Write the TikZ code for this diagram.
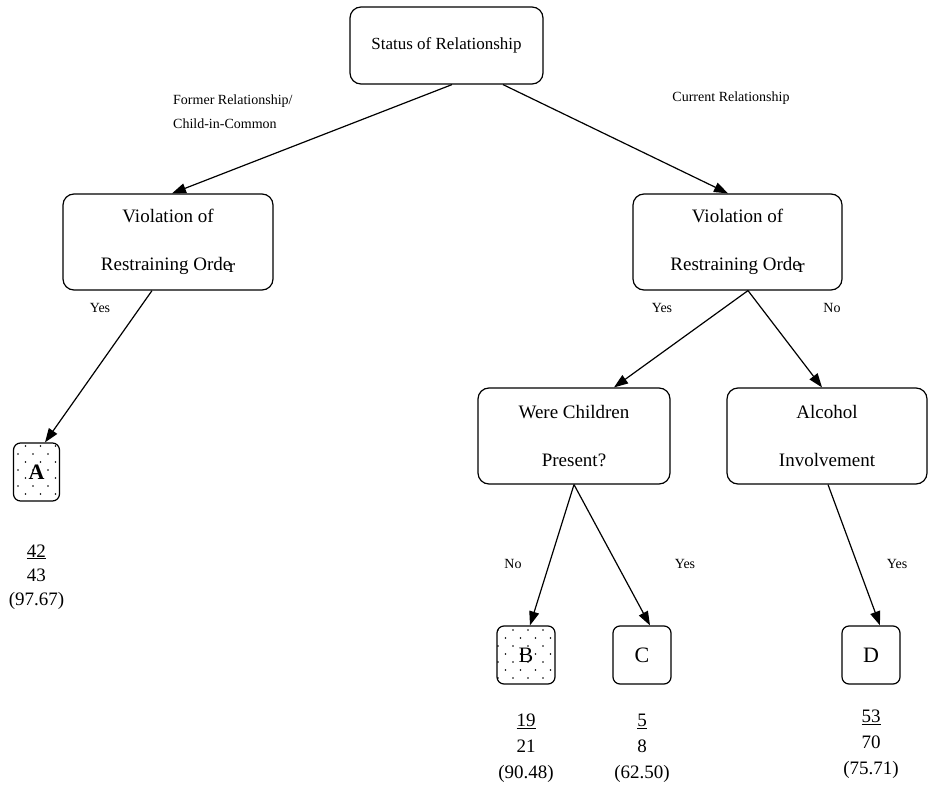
\documentclass[tikz,border=0pt]{standalone}
\usepackage{fontspec}
\setmainfont{Liberation Serif}
\usetikzlibrary{arrows.meta,patterns}
\pgfdeclarepatternformonly{sdots}{\pgfqpoint{-1pt}{-1pt}}{\pgfqpoint{16pt}{17pt}}{\pgfqpoint{15pt}{16pt}}{%
  \pgfpathcircle{\pgfqpoint{3pt}{4pt}}{0.9pt}%
  \pgfpathcircle{\pgfqpoint{10.5pt}{12pt}}{0.9pt}%
  \pgfusepath{fill}}
\begin{document}
\begin{tikzpicture}[x=1pt,y=-1pt,
  box/.style={draw,line width=1.2pt,rounded corners=11pt,align=center,inner sep=0pt,
    font=\fontsize{19}{48}\selectfont},
  leaf/.style={draw,line width=1.2pt,rounded corners=7pt,minimum width=58pt,minimum height=58pt,
    inner sep=0pt,font=\fontsize{22}{24}\selectfont},
  dotted leaf/.style={leaf,pattern=sdots},
  lab/.style={font=\fontsize{14}{24}\selectfont,inner sep=0pt},
  frac/.style={font=\fontsize{19}{26}\selectfont,align=center,inner sep=0pt},
  arr/.style={line width=1.2pt,-{Triangle[length=14pt,width=10pt]}},
  ln/.style={line width=1.2pt}]
\useasboundingbox (0,0) rectangle (928,794);
\newcommand{\Ordr}{Orde\kern-2.5pt\raisebox{-0.12em}{r}}
% nodes
\node[box,minimum width=193pt,minimum height=77pt,font=\fontsize{17}{24}\selectfont] (root) at (446.5,45.5) {Status of Relationship};
\node[box,minimum width=210pt,minimum height=96pt] (L) at (168,242) {Violation of\\ Restraining \Ordr};
\node[box,minimum width=209pt,minimum height=96pt] (R) at (737.5,242) {Violation of\\ Restraining \Ordr};
\node[box,minimum width=192pt,minimum height=96pt] (W) at (574,436) {Were Children\\ Present?};
\node[box,minimum width=200pt,minimum height=96pt] (Al) at (827,436) {Alcohol\\ Involvement};
\node[dotted leaf,minimum width=46pt] (A) at (36.5,472) {\textbf{A}};
\node[dotted leaf] (B) at (526,655) {B};
\node[leaf] (C) at (642,655) {C};
\node[leaf] (D) at (871,655) {D};
% labels
\node[lab,anchor=north west,align=left] (lfr) at (173,95) {Former Relationship/\\ Child-in-Common};
\node[lab] (lcr) at (731,98) {Current Relationship};
\node[lab] (ly1) at (100,308) {Yes};
\node[lab] (ly2) at (662,308) {Yes};
\node[lab] (ln1) at (832,308) {No};
\node[lab] (ln2) at (513,564) {No};
\node[lab] (ly3) at (685,564) {Yes};
\node[lab] (ly4) at (897,564) {Yes};
% fractions
\node[frac,font=\fontsize{19}{24}\selectfont] (fA) at (36.5,577) {\underline{42}\\ 43\\ (97.67)};
\node[frac] (fB) at (526,748) {\underline{19}\\ 21\\ (90.48)};
\node[frac] (fC) at (642,748) {\underline{5}\\ 8\\ (62.50)};
\node[frac] (fD) at (871,744) {\underline{53}\\ 70\\ (75.71)};
% connectors
\draw[arr] ([xshift=5.5pt]root.south) -- ([xshift=4pt]L.north);
\draw[arr] ([xshift=56.5pt]root.south) -- ([xshift=-9.5pt]R.north);
\draw[arr] ([xshift=-16pt]L.south) -- ([xshift=8.5pt]A.north);
\draw[arr] ([xshift=10.5pt]R.south) -- ([xshift=40pt]W.north);
\draw[arr] ([xshift=10.5pt]R.south) -- ([xshift=-5pt]Al.north);
\draw[arr] (W.south) -- ([xshift=4pt]B.north);
\draw[arr] (W.south) -- ([xshift=8pt]C.north);
\draw[arr] ([xshift=1pt]Al.south) -- ([xshift=9pt]D.north);
\end{tikzpicture}
\end{document}
